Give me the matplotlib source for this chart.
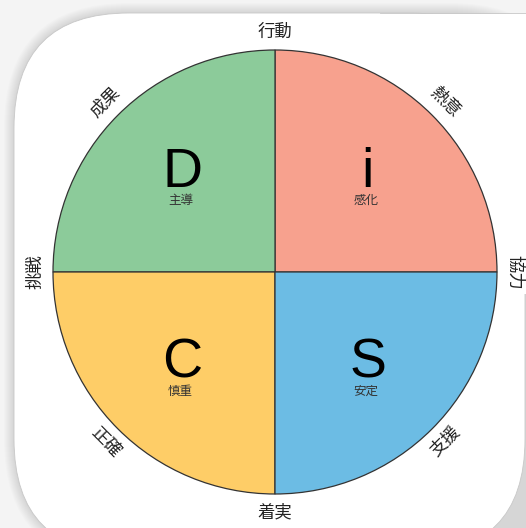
import numpy as np
import matplotlib.pyplot as plt
from matplotlib.patches import FancyBboxPatch, Rectangle

plt.rcParams['font.family'] = ['Noto Sans CJK JP', 'DejaVu Sans']

# quadrants, clockwise on screen from upper-right
letters = ['i', 'D', 'C', 'S']
subtitles = ['感化', '主導', '慎重', '安定']
shares = [1, 1, 1, 1]
colors = ['#f7a18e', '#8ccb9a', '#fecd67', '#6cbce4']

# labels around the circle, counter-clockwise from the top
outer_labels = ['行動', '成果', '挑戦', '正確', '着実', '支援', '協力', '熱意']
outer_angles = [90, 135, 180, 225, 270, 315, 0, 45]

W, H = 526, 528
fig = plt.figure(figsize=(W / 100, H / 100), dpi=100)
fig.patch.set_facecolor('#f4f4f4')
ax = fig.add_axes([0, 0, 1, 1])

# card with soft shadow (its top-right corner lies outside the picture)
x0, y0, x1, y1 = 14, 13, 525, 554
for i in range(10, 0, -1):
    ax.add_patch(FancyBboxPatch((x0 - i, y0 - i), x1 - x0 + 2 * i + 40, y1 - y0 + 2 * i,
                                boxstyle='round,pad=0,rounding_size=%d' % (115 + i),
                                fc='black', ec='none', alpha=0.012, zorder=0))
ax.add_patch(FancyBboxPatch((x0, y0), x1 - x0, y1 - y0,
                            boxstyle='round,pad=0,rounding_size=115',
                            fc='white', ec='#c8c8c8', lw=0.6, zorder=1))
ax.add_patch(Rectangle((380, y0 + 0.6), 160, 280, fc='white', ec='none', zorder=1))
ax.plot([380, 530], [y0, y0], color='#c8c8c8', lw=0.6, zorder=1)

cx, cy, R = 275, 272, 222
wedges, _ = ax.pie(shares, colors=colors, startangle=0, counterclock=False,
                   center=(cx, cy), radius=R,
                   wedgeprops=dict(edgecolor='#333333', linewidth=0.9))
for w in wedges:
    w.set_zorder(2)

for k, (let, sub) in enumerate(zip(letters, subtitles)):
    a = np.deg2rad(-45 - 90 * k)
    gx = cx + 131 * np.cos(a)
    gy = cy + 135 * np.sin(a)
    ax.text(gx, gy + 10, let, ha='center', va='baseline', fontsize=40,
            family='Liberation Sans', color='black', zorder=3)
    ax.text(gx - 2, gy + 24, sub, ha='center', va='center', fontsize=9,
            color='#333333', zorder=3)

for lab, ang in zip(outer_labels, outer_angles):
    a = np.deg2rad(ang)
    r = 240
    tx = cx + r * np.cos(a)
    ty = cy - r * np.sin(a)
    if 0 <= ang <= 180:
        rot = ang - 90
    else:
        rot = ang - 270
    ax.text(tx, ty, lab, ha='center', va='center', rotation=rot,
            rotation_mode='anchor', fontsize=12.5, color='#222222', zorder=3)

ax.set_xlim(0, W)
ax.set_ylim(H, 0)
ax.set_aspect('equal')
ax.set_axis_off()

plt.savefig('out.png', dpi=100, facecolor=fig.get_facecolor())
